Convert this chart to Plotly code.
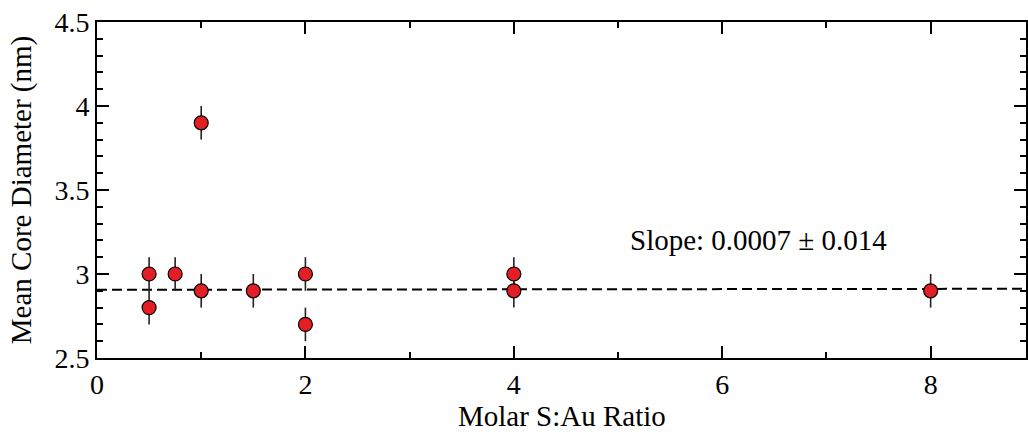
import plotly.graph_objects as go

ratio = [0.5, 0.5, 0.75, 1, 1, 1.5, 2, 2, 4, 4, 8]
diameter = [3.0, 2.8, 3.0, 3.9, 2.9, 2.9, 3.0, 2.7, 3.0, 2.9, 2.9]
err = [0.1] * 11
fit_x = [0, 9]
fit_y = [2.906, 2.912]

fig = go.Figure()
fig.add_trace(go.Scatter(x=fit_x, y=fit_y, mode="lines",
                         line=dict(color="black", width=2, dash="10px,5px"),
                         showlegend=False, hoverinfo="skip"))
fig.add_trace(go.Scatter(x=ratio, y=diameter, mode="markers",
                         error_y=dict(type="data", array=err, visible=True,
                                      color="#222222", thickness=1.6, width=0),
                         marker=dict(size=14, color="#e31e24",
                                     line=dict(color="black", width=1.2)),
                         showlegend=False))

fam = "Liberation Serif, Times New Roman, serif"
font = dict(family=fam, size=28, color="black")
tfont = dict(family=fam, size=29, color="black")
axis_common = dict(showline=True, linecolor="black", linewidth=2, mirror="allticks",
                   ticks="inside", ticklen=12, tickwidth=1.5, tickcolor="black",
                   showgrid=False, zeroline=False, tickfont=font)

fig.update_xaxes(range=[0, 8.915], dtick=2, tick0=0,
                 minor=dict(ticks="inside", ticklen=6, dtick=1, tickcolor="black", tickwidth=1.5),
                 **axis_common)
fig.update_yaxes(range=[2.5, 4.5], dtick=0.5, tick0=2.5,
                 minor=dict(ticks="inside", ticklen=6, dtick=0.1, tickcolor="black", tickwidth=1.5),
                 title=dict(text="Mean Core Diameter (nm)", font=tfont, standoff=14),
                 tickvals=[2.5, 3, 3.5, 4, 4.5], ticktext=["2.5", "3", "3.5", "4", "4.5"],
                 **axis_common)

fig.add_annotation(x=0.5, y=-0.172, xref="paper", yref="paper", text="Molar S:Au Ratio",
                   showarrow=False, font=tfont, xanchor="center", yanchor="middle")
fig.add_annotation(x=6.35, y=3.2, text="Slope: 0.0007 ± 0.014", showarrow=False,
                   font=tfont, xanchor="center", yanchor="middle")

fig.update_layout(width=1028, height=434, margin=dict(l=97, r=0, t=22, b=76),
                  plot_bgcolor="white", paper_bgcolor="white")
fig.write_html("out.html")
